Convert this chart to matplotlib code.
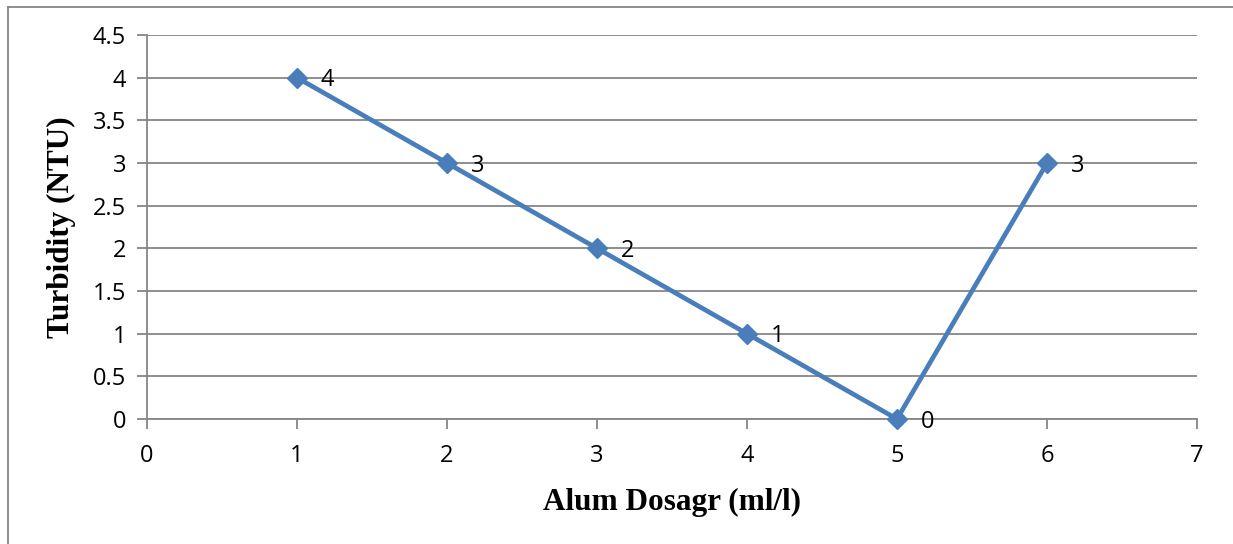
import matplotlib
matplotlib.use('Agg')
import matplotlib.pyplot as plt
from matplotlib.lines import Line2D

# alum dosage vs measured turbidity
dosage = [1, 2, 3, 4, 5, 6]
turbidity = [4, 3, 2, 1, 0, 3]

grey = '#868686'
blue = '#4A7EBB'

fig = plt.figure(figsize=(12.33, 5.44), dpi=100)
ax = fig.add_axes([147 / 1233, 125 / 544, 1050 / 1233, 384 / 544])

ax.plot(dosage, turbidity, color=blue, lw=3.4, marker='D', ms=10,
        markerfacecolor=blue, markeredgecolor=blue, clip_on=False, zorder=3)

for x, y in zip(dosage, turbidity):
    ax.annotate(str(y), (x, y), xytext=(17, -2), textcoords='offset points',
                va='center', ha='left', fontsize=17, family='Open Sans')

ax.set_xlim(0, 7)
ax.set_ylim(0, 4.5)
ax.set_xticks(range(0, 8))
ax.set_yticks([i * 0.5 for i in range(10)])
ax.set_yticklabels(['0', '0.5', '1', '1.5', '2', '2.5', '3', '3.5', '4', '4.5'])

ax.grid(axis='y', color=grey, lw=1.3)
ax.set_axisbelow(True)
for s in ['top', 'right']:
    ax.spines[s].set_visible(False)
for s in ['left', 'bottom']:
    ax.spines[s].set_color(grey)
    ax.spines[s].set_linewidth(1.3)
ax.tick_params(axis='both', direction='out', length=7, width=1.3, color=grey,
               labelsize=17, pad=8)
ax.tick_params(axis='x', pad=11)
for lab in ax.get_xticklabels() + ax.get_yticklabels():
    lab.set_family('Open Sans')

ax.set_xlabel('Alum Dosagr (ml/l)', fontsize=22.5, fontweight='bold',
              family='Liberation Serif', labelpad=14)
ax.set_ylabel('Turbidity (NTU)', fontsize=22.5, fontweight='bold',
              family='Liberation Serif', labelpad=12)

# frame around the chart area
fig.add_artist(Line2D([8 / 1233, 1], [1 - 7 / 544] * 2, color=grey, lw=1.3))
fig.add_artist(Line2D([8 / 1233] * 2, [0, 1 - 7 / 544], color=grey, lw=1.3))

fig.savefig('out.png', dpi=100)
